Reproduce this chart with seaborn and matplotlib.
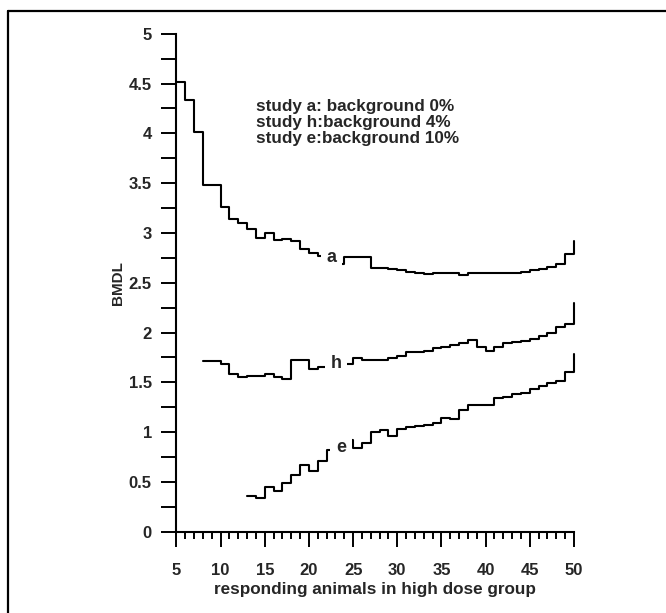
import matplotlib
matplotlib.use("Agg")
import matplotlib.pyplot as plt
import seaborn as sns
import pandas as pd
from matplotlib.lines import Line2D
from matplotlib.ticker import MultipleLocator

# Number of responding animals in the high dose group
dose_a = list(range(5, 51))
dose_h = list(range(8, 51))
dose_e = list(range(13, 51))

# BMDL per study (step values starting at each dose count)
bmdl_a = [4.52, 4.33, 4.01, 3.48, 3.48, 3.26, 3.14, 3.10, 3.04, 2.95,
          3.00, 2.93, 2.94, 2.92, 2.84, 2.80, 2.77, 2.73, 2.69, 2.76,
          2.76, 2.76, 2.65, 2.65, 2.64, 2.63, 2.61, 2.60, 2.59, 2.60,
          2.60, 2.60, 2.58, 2.60, 2.60, 2.60, 2.60, 2.60, 2.60, 2.61,
          2.63, 2.64, 2.66, 2.69, 2.79, 2.92]
bmdl_h = [1.71, 1.71, 1.68, 1.58, 1.556, 1.566, 1.566, 1.58, 1.55, 1.53,
          1.72, 1.72, 1.63, 1.65, 1.66, 1.67, 1.68, 1.74, 1.72, 1.72,
          1.72, 1.74, 1.76, 1.80, 1.80, 1.81, 1.84, 1.85, 1.87, 1.89,
          1.92, 1.85, 1.81, 1.85, 1.89, 1.90, 1.91, 1.93, 1.965, 2.00,
          2.055, 2.09, 2.30]
bmdl_e = [0.36, 0.335, 0.445, 0.405, 0.49, 0.565, 0.667, 0.607, 0.707, 0.82,
          0.87, 0.92, 0.84, 0.89, 1.00, 1.026, 0.96, 1.033, 1.053, 1.066,
          1.076, 1.093, 1.14, 1.127, 1.22, 1.27, 1.27, 1.27, 1.345, 1.355,
          1.378, 1.395, 1.43, 1.46, 1.496, 1.51, 1.60, 1.78]

curve_names = ["a", "h", "e"]
label_pos = {"a": (22.55, 2.75), "h": (23.05, 1.69), "e": (23.6, 0.85)}

y_ticks = [0, 0.5, 1, 1.5, 2, 2.5, 3, 3.5, 4, 4.5, 5]
y_tick_labels = ["0", "0.5", "1", "1.5", "2", "2.5", "3", "3.5", "4", "4.5", "5"]
x_ticks = [5, 10, 15, 20, 25, 30, 35, 40, 45, 50]
x_tick_labels = ["5", "10", "15", "20", "25", "30", "35", "40", "45", "50"]

note_lines = ["study a: background 0%",
              "study h:background 4%",
              "study e:background 10%"]

sns.set_style("ticks")
plt.rcParams["font.family"] = ["Liberation Sans", "DejaVu Sans"]
plt.rcParams["font.weight"] = "bold"

fig = plt.figure(figsize=(6.66, 6.13), dpi=100)
ax = fig.add_axes([0.2650, 0.1326, 0.5968, 0.8124])

series = {"a": (dose_a, bmdl_a), "h": (dose_h, bmdl_h), "e": (dose_e, bmdl_e)}
for name in curve_names:
    xs, ys = series[name]
    df = pd.DataFrame({"dose": xs, "bmdl": ys})
    sns.lineplot(data=df, x="dose", y="bmdl", ax=ax, color="black",
                 linewidth=1.5, drawstyle="steps-post", estimator=None,
                 clip_on=False, zorder=2)

# curve labels sit on a white patch that interrupts the step line
for name in curve_names:
    lx, ly = label_pos[name]
    ax.text(lx, ly, name, ha="center", va="center", fontsize=13,
            fontweight="bold", zorder=4,
            bbox=dict(boxstyle="square,pad=0.32", fc="white", ec="none"))

ax.text(14.0, 4.34, "\n".join(note_lines), ha="left", va="top",
        fontsize=12.3, fontweight="bold", linespacing=1.05)

ax.set_xlim(5, 50)
ax.set_ylim(0, 5)
ax.set_xticks(x_ticks)
ax.set_xticklabels(x_tick_labels)
ax.set_yticks(y_ticks)
ax.set_yticklabels(y_tick_labels)
ax.xaxis.set_minor_locator(MultipleLocator(1))
ax.yaxis.set_minor_locator(MultipleLocator(0.25))

ax.tick_params(axis="y", which="both", direction="out", length=10.8,
               width=1.4, labelsize=12, pad=7, color="black")
ax.tick_params(axis="x", which="major", direction="out", length=10.8,
               width=1.4, labelsize=12, pad=12, color="black")
ax.tick_params(axis="x", which="minor", direction="out", length=5,
               width=1.4, color="black")
for lab in ax.get_xticklabels() + ax.get_yticklabels():
    lab.set_fontweight("bold")

sns.despine(ax=ax)
for side in ("left", "bottom"):
    ax.spines[side].set_linewidth(1.5)
    ax.spines[side].set_color("black")

ax.set_xlabel("responding animals in high dose group", fontsize=12.3,
              fontweight="bold")
ax.set_ylabel("BMDL", fontsize=11, fontweight="bold")
ax.xaxis.set_label_coords(0.5, -0.10)
ax.yaxis.set_label_coords(-0.13, 0.5)

# frame lines along the top and left edges of the figure
top_y = 1 - 10.7 / 613
left_x = 8 / 666
fig.add_artist(Line2D([left_x, 1.0], [top_y, top_y], transform=fig.transFigure,
                      color="black", linewidth=1.6))
fig.add_artist(Line2D([left_x, left_x], [0.0, top_y], transform=fig.transFigure,
                      color="black", linewidth=1.6))

fig.savefig("out.png", dpi=100)
